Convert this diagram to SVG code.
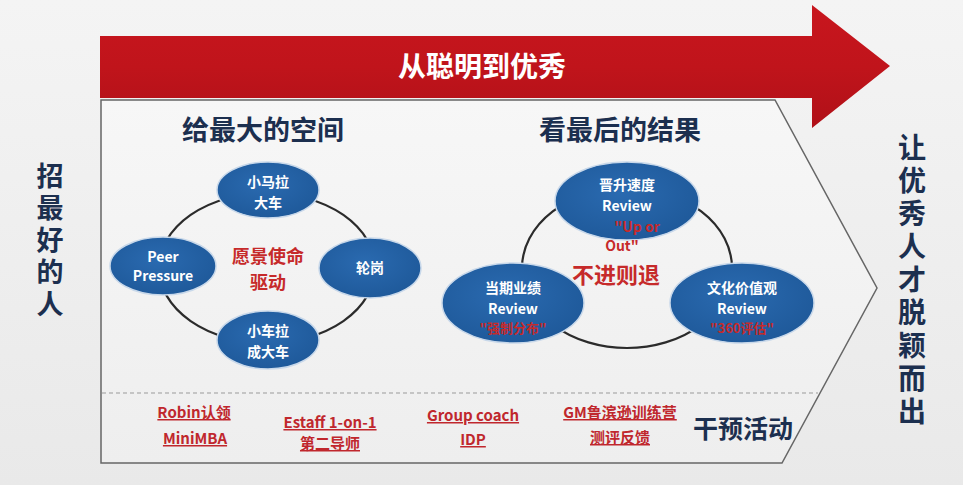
<svg xmlns="http://www.w3.org/2000/svg" width="963" height="485" viewBox="0 0 963 485">
<defs>
<linearGradient id="bg" x1="0" y1="0" x2="0" y2="1"><stop offset="0" stop-color="#f4f4f4"/><stop offset="1" stop-color="#e9e9e9"/></linearGradient>
<linearGradient id="red" x1="0" y1="0" x2="0" y2="1"><stop offset="0" stop-color="#c8161e"/><stop offset="0.5" stop-color="#c0141b"/><stop offset="1" stop-color="#b01018"/></linearGradient>
<radialGradient id="blue" cx="0.45" cy="0.4" r="0.7"><stop offset="0" stop-color="#2a6ab0"/><stop offset="1" stop-color="#1d5797"/></radialGradient>
<linearGradient id="box" x1="0" y1="0" x2="0" y2="1"><stop offset="0" stop-color="#f7f7f7"/><stop offset="1" stop-color="#eeeeee"/></linearGradient>
<style>
.cn{font-family:"Noto Sans CJK SC","Liberation Sans",sans-serif;font-weight:bold}
.head{font-size:27px;fill:#1c2f4f;text-anchor:middle}
.vert{fill:#1c2f4f;text-anchor:middle;writing-mode:vertical-rl;glyph-orientation-vertical:0}
.ell{fill:url(#blue);stroke:#c8d8ea;stroke-width:1.5}
.wt{font-size:14px;fill:#ffffff;text-anchor:middle}
.rt{fill:#c62a2a;text-anchor:middle}
.ring{fill:none;stroke:#2b2b2b;stroke-width:2.2}
.act{font-size:15px;fill:#c0272d;text-anchor:middle;text-decoration:underline}
</style>
</defs>
<rect width="963" height="485" fill="url(#bg)"/>
<g id="frame">
<polygon points="101,100 775,100 877,288 782,463 101,463" fill="url(#box)" stroke="#666" stroke-width="1.5"/>
<line x1="102" y1="393" x2="818" y2="393" stroke="#9a9a9a" stroke-width="1.2" stroke-dasharray="4,3"/>
</g>
<g id="arrow">
<polygon points="100,36 812,36 812,5 890,66 812,128 812,98 100,98" fill="url(#red)"/>
<text class="cn" x="482" y="77" font-size="28" fill="#ffffff" text-anchor="middle">从聪明到优秀</text>
</g>
<g id="left-label"><text class="cn vert" font-size="27" letter-spacing="5" x="50" y="242">招最好的人</text></g>
<g id="right-label"><text class="cn vert" font-size="28" letter-spacing="5" x="912" y="282">让优秀人才脱颖而出</text></g>
<g id="heading-space"><text class="cn head" x="263" y="140">给最大的空间</text></g>
<g id="heading-result"><text class="cn head" x="620" y="140">看最后的结果</text></g>
<g id="connectors">
<ellipse class="ring" cx="267" cy="268" rx="108" ry="75"/>
<ellipse class="ring" cx="627" cy="268" rx="105" ry="80"/>
</g>
<g id="center-vision"><text class="cn rt" font-size="18" x="268" y="263" fill="#d0504d">愿景使命</text><text class="cn rt" font-size="18" x="268" y="289" fill="#d0504d">驱动</text></g>
<g id="node-xiaoma"><ellipse class="ell" cx="268" cy="190" rx="51" ry="28"/><text class="cn wt" x="268" y="187">小马拉</text><text class="cn wt" x="268" y="208">大车</text></g>
<g id="node-peer"><ellipse class="ell" cx="163" cy="266" rx="53" ry="29"/><text class="cn wt" font-size="13" x="163" y="262">Peer</text><text class="cn wt" font-size="13" x="163" y="281">Pressure</text></g>
<g id="node-lungang"><ellipse class="ell" cx="370" cy="268" rx="51" ry="30"/><text class="cn wt" x="370" y="273">轮岗</text></g>
<g id="node-xiaoche"><ellipse class="ell" cx="268" cy="340" rx="51" ry="29"/><text class="cn wt" x="268" y="336">小车拉</text><text class="cn wt" x="268" y="357">成大车</text></g>
<g id="node-promotion"><ellipse class="ell" cx="627" cy="201" rx="72" ry="39"/><text class="cn wt" x="627" y="190">晋升速度</text><text class="cn wt" font-size="15" x="627" y="211">Review</text><text class="cn rt" font-size="14" x="637" y="232">"Up or</text><text class="cn rt" font-size="14" x="622" y="251">Out"</text></g>
<g id="center-result"><text class="cn rt" font-size="22" x="616" y="283">不进则退</text></g>
<g id="node-performance"><ellipse class="ell" cx="513" cy="303" rx="71" ry="40"/><text class="cn wt" x="513" y="293">当期业绩</text><text class="cn wt" font-size="15" x="513" y="314">Review</text><text class="cn rt" font-size="13" x="513" y="333">"强制分布"</text></g>
<g id="node-culture"><ellipse class="ell" cx="742" cy="303" rx="72" ry="40"/><text class="cn wt" x="742" y="293">文化价值观</text><text class="cn wt" font-size="15" x="742" y="314">Review</text><text class="cn rt" font-size="13" x="742" y="333">"360评估"</text></g>
<g id="act-robin"><text class="cn act" x="194" y="418">Robin认领</text><text class="cn act" x="195" y="444">MiniMBA</text></g>
<g id="act-estaff"><text class="cn act" x="330" y="428">Estaff 1-on-1</text><text class="cn act" x="330" y="449">第二导师</text></g>
<g id="act-group"><text class="cn act" x="473" y="421">Group coach</text><text class="cn act" x="473" y="445">IDP</text></g>
<g id="act-gm"><text class="cn act" x="620" y="418">GM鲁滨逊训练营</text><text class="cn act" x="620" y="443">测评反馈</text></g>
<g id="label-intervention"><text class="cn" x="743" y="438" font-size="25" fill="#1c2f4f" text-anchor="middle">干预活动</text></g>
</svg>
